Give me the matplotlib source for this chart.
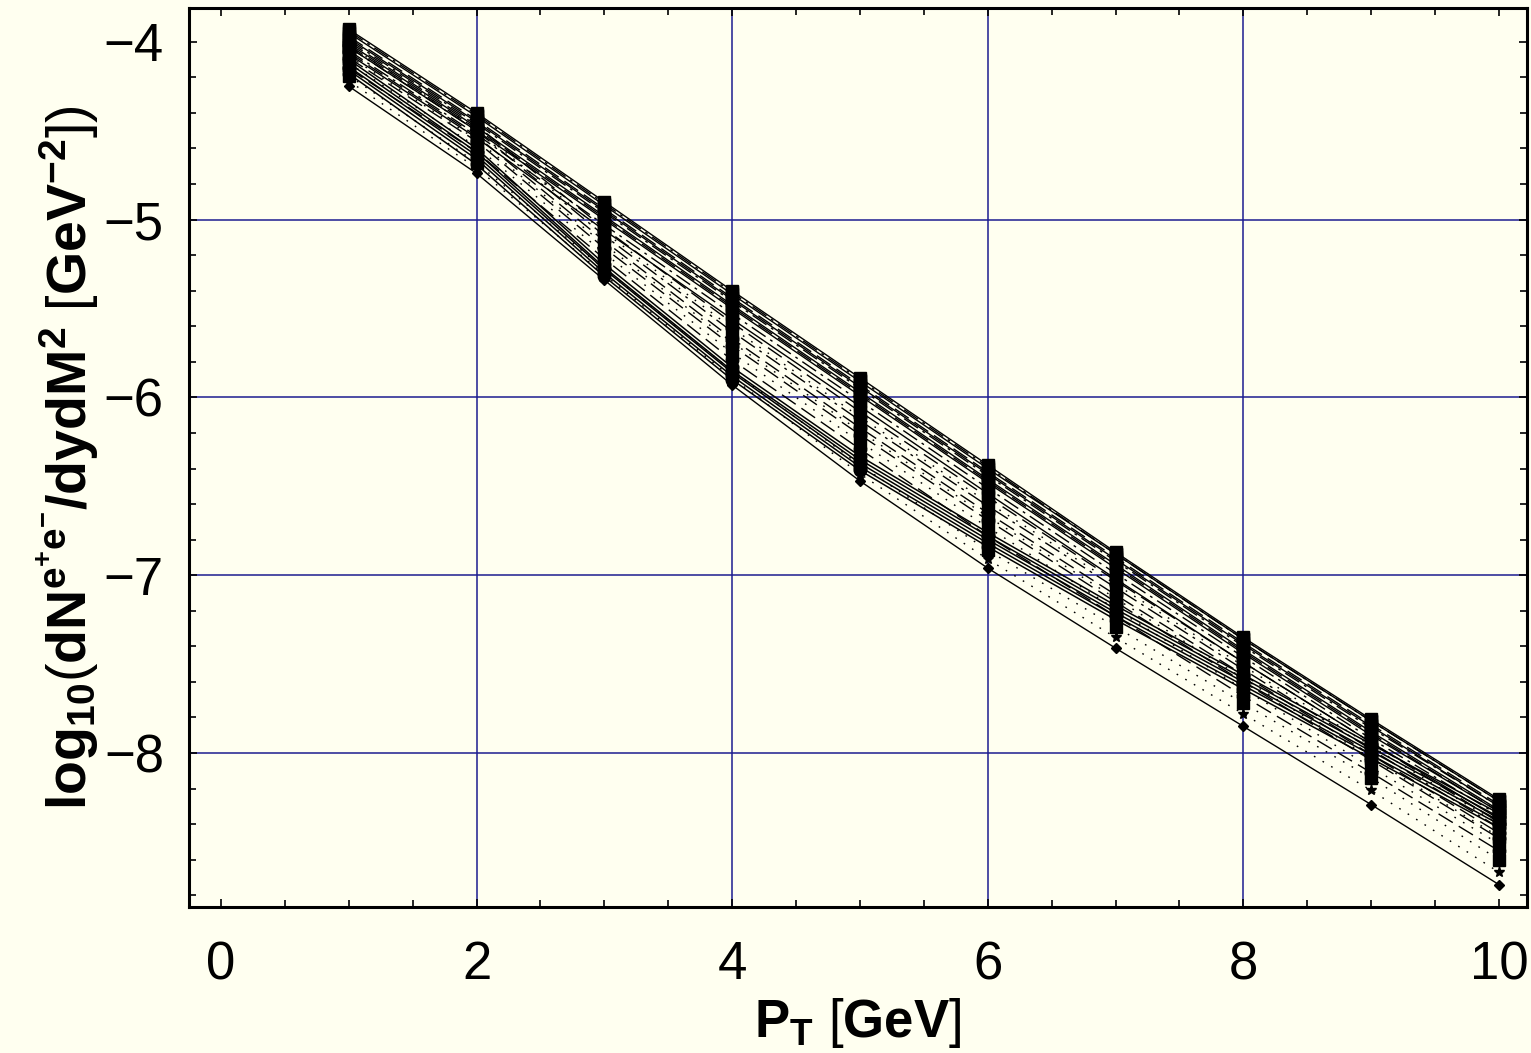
import matplotlib
matplotlib.use('Agg')
import matplotlib.pyplot as plt
from matplotlib.ticker import MultipleLocator

plt.rcParams['font.family'] = ['Liberation Sans', 'DejaVu Sans']
plt.rcParams['mathtext.fontset'] = 'custom'
plt.rcParams['mathtext.rm'] = 'Liberation Sans'
plt.rcParams['mathtext.bf'] = 'Liberation Sans:bold'
plt.rcParams['mathtext.it'] = 'Liberation Sans:italic'

pt = [1, 2, 3, 4, 5, 6, 7, 8, 9, 10]

# upper bundle (squares)
upper = [
    [-3.93, -4.40, -4.90, -5.40, -5.89, -6.38, -6.87, -7.35, -7.81, -8.26],
    [-3.94, -4.41, -4.91, -5.41, -5.90, -6.39, -6.88, -7.36, -7.82, -8.27],
    [-3.95, -4.42, -4.92, -5.42, -5.91, -6.40, -6.88, -7.36, -7.82, -8.27],
    [-3.97, -4.44, -4.94, -5.44, -5.93, -6.42, -6.90, -7.38, -7.84, -8.29],
    [-3.98, -4.45, -4.95, -5.45, -5.94, -6.43, -6.91, -7.39, -7.85, -8.30],
    [-3.99, -4.46, -4.96, -5.46, -5.95, -6.44, -6.92, -7.40, -7.86, -8.30],
    [-4.01, -4.48, -4.98, -5.48, -5.97, -6.46, -6.94, -7.42, -7.88, -8.32],
    [-4.02, -4.49, -4.99, -5.49, -5.98, -6.47, -6.95, -7.43, -7.89, -8.33],
    [-4.03, -4.50, -5.00, -5.50, -5.99, -6.48, -6.96, -7.44, -7.90, -8.33],
    [-4.05, -4.52, -5.03, -5.53, -6.02, -6.51, -6.99, -7.46, -7.92, -8.35],
    [-4.07, -4.54, -5.06, -5.56, -6.05, -6.54, -7.02, -7.49, -7.94, -8.37],
]

# dashed / dotted curves in between
middle = [
    [-4.00, -4.47, -5.05, -5.58, -6.08, -6.56, -7.03, -7.49, -7.94, -8.39],
    [-4.02, -4.49, -5.07, -5.61, -6.11, -6.59, -7.05, -7.51, -7.96, -8.40],
    [-4.03, -4.50, -5.09, -5.63, -6.13, -6.61, -7.07, -7.53, -7.98, -8.42],
    [-4.06, -4.53, -5.12, -5.67, -6.17, -6.65, -7.11, -7.56, -8.01, -8.45],
    [-4.08, -4.55, -5.14, -5.69, -6.19, -6.67, -7.13, -7.58, -8.03, -8.47],
    [-4.09, -4.56, -5.16, -5.71, -6.21, -6.69, -7.15, -7.60, -8.04, -8.48],
    [-4.12, -4.59, -5.19, -5.75, -6.25, -6.73, -7.19, -7.64, -8.08, -8.51],
    [-4.15, -4.62, -5.22, -5.79, -6.29, -6.78, -7.23, -7.68, -8.11, -8.55],
]

# lower bundle (circles)
lower = [
    [-4.10, -4.60, -5.25, -5.83, -6.33, -6.76, -7.17, -7.56, -7.95, -8.34],
    [-4.12, -4.62, -5.27, -5.85, -6.35, -6.78, -7.19, -7.58, -7.97, -8.36],
    [-4.14, -4.64, -5.28, -5.86, -6.37, -6.80, -7.21, -7.60, -7.99, -8.38],
    [-4.16, -4.66, -5.30, -5.88, -6.39, -6.82, -7.23, -7.62, -8.01, -8.40],
    [-4.18, -4.69, -5.32, -5.90, -6.41, -6.84, -7.25, -7.64, -8.03, -8.42],
]

bottom_square = [-4.19, -4.68, -5.28, -5.85, -6.38, -6.86, -7.29, -7.72, -8.14, -8.60]
bottom_star = [-4.22, -4.71, -5.31, -5.89, -6.43, -6.91, -7.35, -7.78, -8.21, -8.67]
bottom_diamond = [-4.25, -4.74, -5.34, -5.93, -6.47, -6.96, -7.41, -7.85, -8.29, -8.74]

bg = '#fffff0'
gridc = '#1c1c90'
dotted = (0, (1.2, 6))
dashed = (0, (12, 5))
dashdot = (0, (12, 4, 2, 4))

fig = plt.figure(figsize=(15.31, 10.53), dpi=100, facecolor=bg)
ax = fig.add_axes([189/1531, 1-907/1053, (1527-189)/1531, (907-8)/1053])
ax.set_facecolor(bg)

for gx in [2, 4, 6, 8]:
    ax.axvline(gx, color=gridc, lw=1.1, zorder=0)
for gy in [-5, -6, -7, -8]:
    ax.axhline(gy, color=gridc, lw=1.1, zorder=0)

up_styles = ['-', dashdot, '-', dashed, '-', dashdot, '-', dashed, '-', dashdot, '-']
for ys, ls in zip(upper, up_styles):
    ax.plot(pt, ys, color='k', lw=1.0, ls=ls, marker='s', ms=9, mec='k', mfc='k')

mid_styles = [dashed, dotted, dashdot, dashed, dotted, dashed, dotted, dashed]
mid_marks = ['s', 'o', 's', 'o', 's', 'o', 's', 'o']
for ys, ls, mk in zip(middle, mid_styles, mid_marks):
    ax.plot(pt, ys, color='k', lw=1.0, ls=ls, marker=mk, ms=9, mec='k', mfc='k')

for ys in lower:
    ax.plot(pt, ys, color='k', lw=1.1, ls='-', marker='o', ms=9, mec='k', mfc='k')

ax.plot(pt, bottom_square, color='k', lw=1.0, ls=dotted, marker='s', ms=9, mfc='k', mec='k')
ax.plot(pt, bottom_star, color='k', lw=1.0, ls=dotted, marker='*', ms=8, mfc='k', mec='k')
ax.plot(pt, bottom_diamond, color='k', lw=1.0, ls='-', marker='D', ms=5.5, mfc='k', mec='k')

ax.set_xlim(-0.25, 10.22)
ax.set_ylim(-8.866, -3.81)
ax.xaxis.set_major_locator(MultipleLocator(2))
ax.xaxis.set_minor_locator(MultipleLocator(0.5))
ax.yaxis.set_major_locator(MultipleLocator(1))
ax.yaxis.set_minor_locator(MultipleLocator(0.2))
ax.tick_params(which='both', direction='in', top=True, right=True, width=1.2, color='k')
ax.tick_params(which='major', length=6)
ax.tick_params(which='minor', length=5)
ax.tick_params(axis='x', labelsize=38, pad=24)
ax.tick_params(axis='y', labelsize=38, pad=18)
for sp in ax.spines.values():
    sp.set_linewidth(2.2)

ax.set_xlabel(r'$\mathbf{P_T}\ \mathrm{[}\mathbf{GeV}\mathrm{]}$', fontsize=38, labelpad=4)
ax.set_ylabel(r'$\mathbf{log_{10}}\mathrm{(}\mathbf{dN^{e^{+}e^{-}}/dydM^{2}}\ \mathrm{[}\mathbf{GeV^{-2}}\mathrm{])}$',
              fontsize=40, labelpad=2)

fig.savefig('out.png', dpi=100, facecolor=bg)
